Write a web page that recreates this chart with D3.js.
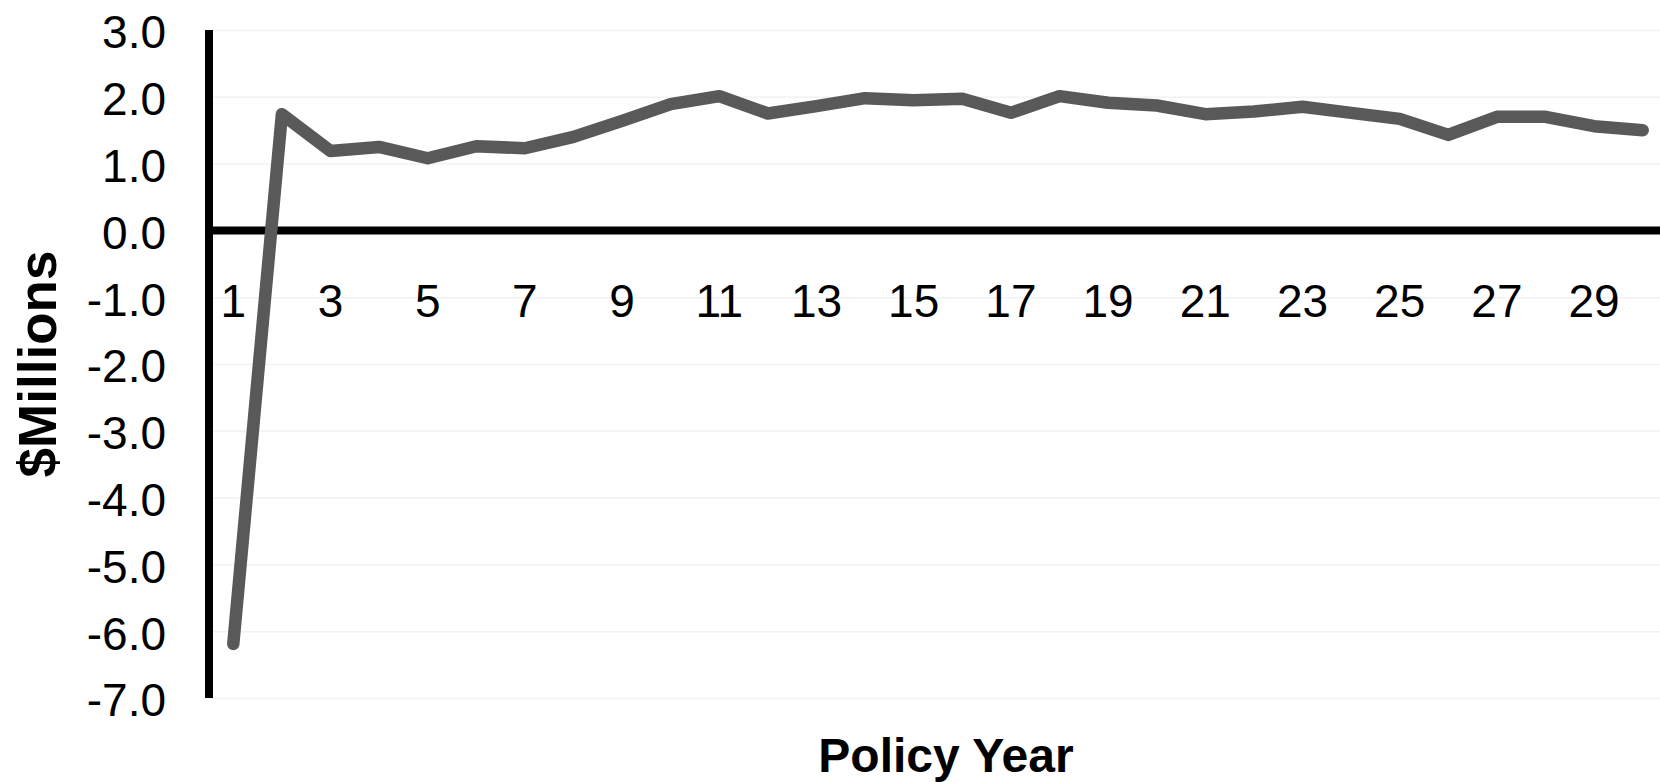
<!DOCTYPE html>
<html>
<head>
<meta charset="utf-8">
<script src="https://cdn.jsdelivr.net/npm/d3@7"></script>
<style>
  html, body { margin: 0; padding: 0; background: #ffffff; }
  svg { display: block; font-family: "Liberation Sans", Arial, sans-serif; }
</style>
</head>
<body>
<svg id="chart" width="1660" height="782"></svg>
<script>
// Policy years and the net cash flow for each year ($ millions)
const policyYears = d3.range(1, 31);
const netValues = [
  -6.19, 1.74, 1.19, 1.25, 1.08, 1.26, 1.23, 1.40, 1.64, 1.89,
   2.01, 1.75, 1.86, 1.98, 1.95, 1.97, 1.76, 2.01, 1.91, 1.87,
   1.74, 1.78, 1.85, 1.76, 1.67, 1.43, 1.70, 1.70, 1.56, 1.50
];
const yTickValues = [-7, -6, -5, -4, -3, -2, -1, 0, 1, 2, 3];
const xTickValues = policyYears.filter(d => d % 2 === 1);
const yAxisTitle = "$Millions";
const xAxisTitle = "Policy Year";

const svg = d3.select("#chart");
const W = 1660, H = 782;
const plot = { left: 209, right: 1667, top: 30, bottom: 698 };

const x = d3.scaleBand().domain(policyYears).range([plot.left, plot.right]);
const y = d3.scaleLinear().domain([-7, 3]).range([plot.bottom, plot.top]);
const fmt = d => d.toFixed(1);

// light horizontal gridlines
svg.append("g")
  .attr("transform", `translate(${plot.left},0)`)
  .call(d3.axisLeft(y).tickValues(yTickValues).tickSize(-(W - plot.left)).tickFormat(""))
  .call(g => g.select(".domain").remove())
  .call(g => g.selectAll("line").attr("stroke", "#f2f2f2").attr("stroke-width", 1.5));

// y tick labels
svg.append("g")
  .attr("transform", `translate(${plot.left},0)`)
  .call(d3.axisLeft(y).tickValues(yTickValues).tickSize(0).tickPadding(43).tickFormat(fmt))
  .call(g => g.select(".domain").remove())
  .call(g => g.selectAll("text")
    .attr("font-size", 46).attr("fill", "#000").attr("dy", "0.39em")
    .style("font-family", "'Liberation Sans', Arial, sans-serif"));

// vertical axis line
svg.append("line")
  .attr("x1", plot.left).attr("x2", plot.left)
  .attr("y1", y(3)).attr("y2", y(-7))
  .attr("stroke", "#000").attr("stroke-width", 8);

// x axis along zero with category labels below
svg.append("g")
  .attr("transform", `translate(0,${y(0)})`)
  .call(d3.axisBottom(x).tickValues(xTickValues).tickSize(0).tickPadding(54))
  .call(g => g.select(".domain").remove())
  .call(g => g.selectAll("text")
    .attr("font-size", 46).attr("fill", "#000")
    .style("font-family", "'Liberation Sans', Arial, sans-serif"));

svg.append("line")
  .attr("x1", plot.left - 4).attr("x2", W)
  .attr("y1", y(0)).attr("y2", y(0))
  .attr("stroke", "#000").attr("stroke-width", 8);

// data line
const line = d3.line()
  .x((d, i) => x(policyYears[i]) + x.bandwidth() / 2)
  .y(d => y(d));

svg.append("path")
  .datum(netValues)
  .attr("d", line)
  .attr("fill", "none")
  .attr("stroke", "#595959")
  .attr("stroke-width", 12.5)
  .attr("stroke-linejoin", "round")
  .attr("stroke-linecap", "round");

// axis titles
svg.append("text")
  .attr("transform", `translate(56,${(plot.top + plot.bottom) / 2}) rotate(-90)`)
  .attr("text-anchor", "middle")
  .attr("font-size", 53).attr("font-weight", "bold")
  .text(yAxisTitle);

svg.append("text")
  .attr("x", 946).attr("y", 772)
  .attr("text-anchor", "middle")
  .attr("font-size", 48).attr("font-weight", "bold")
  .text(xAxisTitle);
</script>
</body>
</html>
